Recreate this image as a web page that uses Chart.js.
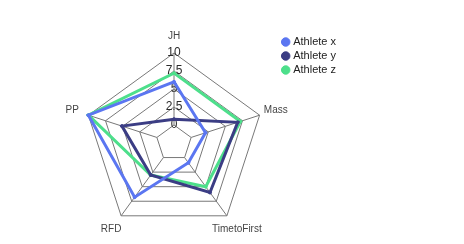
<!DOCTYPE html>
<html>
<head>
<meta charset="utf-8">
<script src="https://cdn.jsdelivr.net/npm/chart.js@4.4.1/dist/chart.umd.min.js"></script>
<style>
  html, body { margin: 0; padding: 0; background: #ffffff; overflow: hidden; }
  #wrap { position: relative; width: 464px; height: 244px; overflow: hidden; }
  canvas { display: block; }
</style>
</head>
<body>
<div id="wrap"><canvas id="c" width="464" height="253" style="width:464px;height:253px"></canvas></div>
<script>
// ---- data ----
const categories = ['JH', 'Mass', 'TimetoFirst', 'RFD', 'PP'];
const seriesNames = ['Athlete x', 'Athlete y', 'Athlete z'];
const athleteX = [6.0, 2.1, 0.9, 6.8, 10];
const athleteY = [0.8, 6.8, 6.0, 3.0, 5.1];
const athleteZ = [7.2, 7.2, 5.0, 3.0, 10];
const scaleMin = -2.5;
const scaleMax = 10;
const scaleStep = 2.5;

const colors = ['#5b76f1', '#3b3d84', '#4ddf8b'];
const seriesValues = [athleteX, athleteY, athleteZ];

// angle lines drawn from the 0 ring outwards (reference leaves the centre empty)
const angleLinesPlugin = {
  id: 'angleLinesFromZero',
  beforeDatasetsDraw(chart) {
    const s = chart.scales.r;
    const ctx = chart.ctx;
    ctx.save();
    ctx.strokeStyle = '#787878';
    ctx.lineWidth = 1;
    for (let i = 0; i < categories.length; i++) {
      const a = s.getPointPositionForValue(i, 0);
      const b = s.getPointPositionForValue(i, scaleMax);
      ctx.beginPath();
      ctx.moveTo(a.x, a.y);
      ctx.lineTo(b.x, b.y);
      ctx.stroke();
    }
    ctx.restore();
  }
};

// centred point labels
const centredLabelsPlugin = {
  id: 'centredPointLabels',
  afterDraw(chart) {
    const s = chart.scales.r;
    const ctx = chart.ctx;
    ctx.save();
    ctx.font = '10px "Liberation Sans", Arial, sans-serif';
    ctx.fillStyle = '#444444';
    ctx.textAlign = 'center';
    ctx.textBaseline = 'middle';
    chart.data.labels.forEach((lab, i) => {
      const p = s.getPointPosition(i, s.drawingArea + 17);
      ctx.fillText(lab, p.x, p.y);
    });
    ctx.restore();
  }
};

new Chart(document.getElementById('c'), {
  type: 'radar',
  data: {
    labels: categories,
    datasets: seriesNames.map((name, k) => ({
      label: name,
      data: seriesValues[k],
      borderColor: colors[k],
      backgroundColor: colors[k],
      pointBackgroundColor: colors[k],
      pointBorderColor: colors[k],
      pointBorderWidth: 1,
      pointRadius: 1.5,
      borderWidth: 3,
      fill: false
    }))
  },
  options: {
    responsive: false,
    animation: false,
    devicePixelRatio: 1,
    layout: { padding: { left: 69, right: 118, top: 33.5, bottom: 0 } },
    plugins: {
      legend: {
        position: 'right',
        align: 'start',
        labels: {
          usePointStyle: true,
          pointStyle: 'circle',
          boxWidth: 4,
          boxHeight: 6,
          padding: 3,
          color: '#222222',
          font: { size: 11, family: '"Liberation Sans", Arial, sans-serif' }
        }
      },
      tooltip: { enabled: false }
    },
    scales: {
      r: {
        min: scaleMin,
        max: scaleMax,
        beginAtZero: false,
        angleLines: { display: false },
        grid: { color: '#787878', lineWidth: 1 },
        pointLabels: { display: false },
        ticks: {
          stepSize: scaleStep,
          showLabelBackdrop: false,
          backdropPadding: { top: 9.5, bottom: 9.5, left: 2, right: 2 },
          color: '#2a2a2a',
          font: { size: 12, family: '"Liberation Sans", Arial, sans-serif' },
          callback: (v) => (v < 0 ? '' : String(v))
        }
      }
    }
  },
  plugins: [angleLinesPlugin, centredLabelsPlugin]
});
</script>
</body>
</html>
